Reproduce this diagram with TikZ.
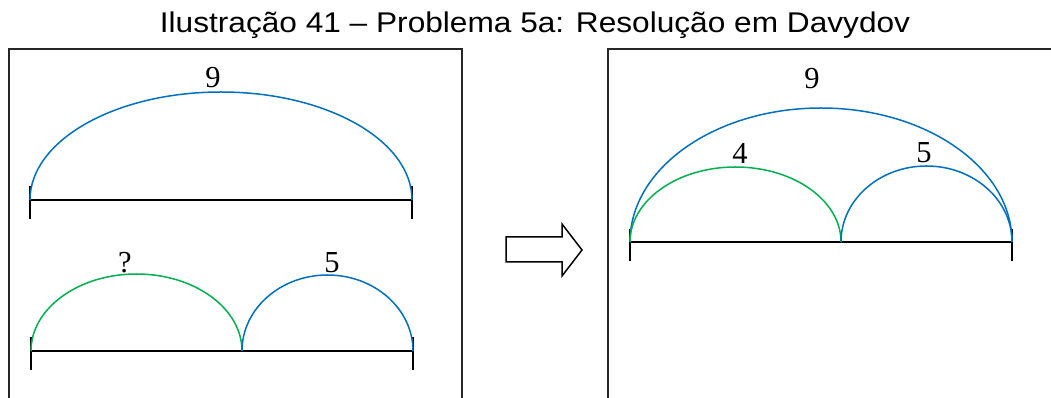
\documentclass[tikz,border=0pt]{standalone}
\usepackage{fontspec}
\setmainfont{Liberation Serif}
\newfontfamily\titlefont[FakeStretch=1.11]{Liberation Sans}
\usepackage{tikz}
\usetikzlibrary{calc, positioning, arrows.meta, shapes.arrows}
\usepackage{xcolor}
\definecolor{partA}{RGB}{0, 112, 192}
\definecolor{partB}{RGB}{0, 176, 80}

\begin{document}
\begin{tikzpicture}[x=1pt, y=1pt,
  frame/.style={draw=black!85, line width=1.6pt},
  seg/.style={draw, line width=1.5pt},
  tickmark/.style={draw, line width=1.5pt},
  bluearc/.style={draw=partA, line width=1.5pt},
  greenarc/.style={draw=partB, line width=1.5pt},
  lbl/.style={font=\fontsize{30.5}{32}\selectfont, inner sep=0pt}]
  \clip (0,0) rectangle (1051,398);
  \fill[white] (0,0) rectangle (1051,398);

  % Title
  \node[anchor=base, inner sep=0pt, font=\titlefont\fontsize{28.5}{30}\selectfont]
    (title) at (535,365) {Ilustração 41 – Problema 5a: Resolução em Davydov};

  % Frames
  \draw[frame] (9,-20) rectangle (462,349);
  \draw[frame] (608,-20) rectangle (1070,349);

  % Left, upper: the whole
  \coordinate (wL) at (30,198);
  \coordinate (wR) at (412,198);
  \draw[seg] (wL) -- (wR);
  \draw[tickmark] ($(wL)+(0,14)$) -- ($(wL)+(0,-19)$);
  \draw[tickmark] ($(wR)+(0,14)$) -- ($(wR)+(0,-19)$);
  \draw[bluearc] (wL) arc[start angle=180, end angle=0, x radius=191pt, y radius=108pt];
  \node[lbl] (wNine) at (213,320) {9};

  % Left, lower: the two parts
  \coordinate (pL) at (31,47);
  \coordinate (pM) at (242,47);
  \coordinate (pR) at (413,47);
  \draw[seg] (pL) -- (pR);
  \draw[tickmark] ($(pL)+(0,14)$) -- ($(pL)+(0,-19)$);
  \draw[tickmark] ($(pR)+(0,14)$) -- ($(pR)+(0,-19)$);
  \draw[greenarc] (pL) arc[start angle=180, end angle=0, x radius=105.5pt, y radius=77pt];
  \draw[bluearc] (pM) arc[start angle=180, end angle=0, x radius=85.5pt, y radius=76pt];
  \node[lbl] (pAsk) at (125,135) {?};
  \node[lbl] (pFive) at (332,135) {5};

  % Block arrow
  \coordinate (aS) at (506,148);
  \draw[line width=1.5pt, line join=miter]
    (506,161) -- (562,161) -- (562,174) -- (582,148) -- (562,122)
    -- (562,136) -- (506,136) -- cycle;

  % Right: the solution
  \coordinate (rL) at (630,156);
  \coordinate (rM) at (841,156);
  \coordinate (rR) at (1012,156);
  \draw[seg] (rL) -- (rR);
  \draw[tickmark] ($(rL)+(0,13)$) -- ($(rL)+(0,-19)$);
  \draw[tickmark] ($(rR)+(0,13)$) -- ($(rR)+(0,-19)$);
  \draw[bluearc] (rL) arc[start angle=180, end angle=0, x radius=191pt, y radius=134pt];
  \draw[greenarc] (rL) arc[start angle=180, end angle=0, x radius=105.5pt, y radius=75pt];
  \draw[bluearc] (rM) arc[start angle=180, end angle=0, x radius=85.5pt, y radius=76pt];
  \node[lbl] (rNine) at (812,319) {9};
  \node[lbl] (rFour) at (740,245) {4};
  \node[lbl] (rFive) at (924,245) {5};
\end{tikzpicture}
\end{document}
